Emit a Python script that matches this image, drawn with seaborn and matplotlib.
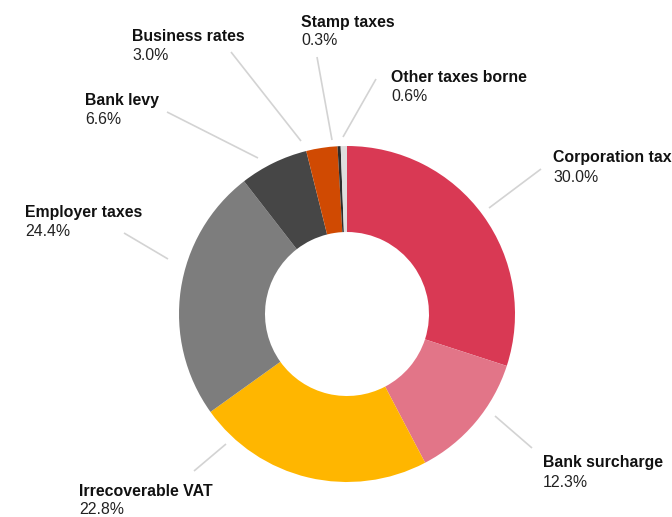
import matplotlib
matplotlib.use("Agg")
import matplotlib.pyplot as plt
import seaborn as sns

# Share of total taxes borne, by tax type (%)
categories = [
    "Corporation tax", "Bank surcharge", "Irrecoverable VAT", "Employer taxes",
    "Bank levy", "Business rates", "Stamp taxes", "Other taxes borne",
]
shares = [30.0, 12.3, 22.8, 24.4, 6.6, 3.0, 0.3, 0.6]
colors = ["#D93954", "#E27588", "#FFB600", "#7D7D7D",
          "#464646", "#D04A02", "#2D2D2D", "#DEDEDE"]

sns.set_theme(style="white")
plt.rcParams["font.family"] = ["Liberation Sans", "DejaVu Sans"]

W, H = 672, 517
fig = plt.figure(figsize=(W / 100, H / 100), dpi=100)
ax = fig.add_axes([0, 0, 1, 1])


def fy(y):
    """Convert a top-down pixel row into the axes' bottom-up y."""
    return H - y


center = (347, fy(314))
outer_r = 168
ring_w = 86

ax.pie(
    shares,
    colors=colors,
    startangle=90,
    counterclock=False,
    center=center,
    radius=outer_r,
    wedgeprops=dict(width=ring_w, linewidth=0),
)
ax.set_xlim(0, W)
ax.set_ylim(0, H)
ax.set_aspect("auto")
ax.axis("off")

# Label placement: text anchor (left, name baseline, value baseline) and leader line
layout = {
    "Corporation tax":   ((553, 162, 182), ((489, 208), (541, 169))),
    "Bank surcharge":    ((543, 467, 487), ((495, 416), (532, 448))),
    "Irrecoverable VAT": ((79, 496, 514),  ((226, 444), (194, 471))),
    "Employer taxes":    ((25, 217, 236),  ((168, 259), (124, 233))),
    "Bank levy":         ((85, 105, 124),  ((258, 158), (167, 112))),
    "Business rates":    ((132, 41, 60),   ((301, 141), (231, 52))),
    "Stamp taxes":       ((301, 27, 45),   ((332, 140), (317, 57))),
    "Other taxes borne": ((391, 82, 101),  ((343, 137), (376, 79))),
}

fs = 11.4
for name, value in zip(categories, shares):
    (tx, ny, vy), ((x0, y0), (x1, y1)) = layout[name]
    ax.plot([x0, x1], [fy(y0), fy(y1)], color="#D3D3D3", lw=1.2,
            solid_capstyle="butt", zorder=1)
    ax.text(tx, fy(ny), name, fontsize=fs, fontweight="bold", color="#111111",
            ha="left", va="baseline")
    ax.text(tx, fy(vy), f"{value:.1f}%", fontsize=fs, color="#222222",
            ha="left", va="baseline")

fig.savefig("out.png", dpi=100)
